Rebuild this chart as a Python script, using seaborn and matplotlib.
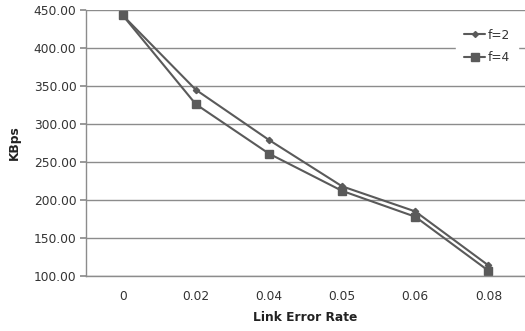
import matplotlib
matplotlib.use("Agg")
import matplotlib.pyplot as plt
import seaborn as sns
import pandas as pd

categories = ["0", "0.02", "0.04", "0.05", "0.06", "0.08"]
f2_values = [443, 345, 279, 218, 185, 114]
f4_values = [443, 326, 261, 212, 178, 107]
y_ticks = [100, 150, 200, 250, 300, 350, 400, 450]

sns.set_theme(style="white")
plt.rcParams['font.family'] = ['DejaVu Sans']

df = pd.DataFrame({
    "pos": list(range(len(categories))) * 2,
    "KBps": f2_values + f4_values,
    "series": ["f=2"] * len(categories) + ["f=4"] * len(categories),
})

fig = plt.figure(figsize=(5.25, 3.31), dpi=100)
ax = fig.add_axes([0.164, 0.166, 0.836, 0.804])

sns.lineplot(data=df, x="pos", y="KBps", hue="series",
             palette={"f=2": "#5a5a5a", "f=4": "#5a5a5a"},
             ax=ax, legend=False, linewidth=1.5, sort=False)
for s, m, ms in [("f=2", "D", 3.2), ("f=4", "s", 5.8)]:
    sub = df[df.series == s]
    ax.plot(sub.pos, sub.KBps, linestyle="none", marker=m, markersize=ms,
            color="#5a5a5a")

ax.set_xlim(-0.5, 5.5)
ax.set_ylim(100, 450)
ax.set_xticks(range(len(categories)))
ax.set_xticklabels(categories)
ax.set_yticks(y_ticks)
ax.set_yticklabels([f"{v:.2f}" for v in y_ticks])
ax.yaxis.grid(True, color="#8c8c8c", linewidth=1)
ax.xaxis.grid(False)
ax.set_axisbelow(True)
for sp in ["top", "right"]:
    ax.spines[sp].set_visible(False)
for sp in ["left", "bottom"]:
    ax.spines[sp].set_color("#8c8c8c")
    ax.spines[sp].set_linewidth(1)
ax.tick_params(axis="y", which="both", left=True, length=4, color="#8c8c8c",
               labelsize=8.8, labelcolor="#333333", pad=3)
ax.tick_params(axis="x", bottom=False, length=0, labelsize=8.8, labelcolor="#333333", pad=10)
ax.set_xlabel("Link Error Rate", fontsize=8.8, fontweight="bold", color="#222222", labelpad=6)
ax.set_ylabel("KBps", fontsize=8.8, fontweight="bold", color="#222222", labelpad=9)

from matplotlib.lines import Line2D
handles = [Line2D([], [], color="#5a5a5a", marker="D", markersize=3, linewidth=1.5),
           Line2D([], [], color="#5a5a5a", marker="s", markersize=5.5, linewidth=1.5)]
leg = ax.legend(handles, ["f=2", "f=4"], loc="upper left", bbox_to_anchor=(0.842, 0.962),
                frameon=True, facecolor="white", edgecolor="white", framealpha=1,
                fontsize=8.8, handlelength=1.7, handletextpad=0.2, labelspacing=0.8,
                borderpad=0.7, borderaxespad=0)
for t in leg.get_texts():
    t.set_color("#333333")

fig.savefig("out.png", dpi=100)
